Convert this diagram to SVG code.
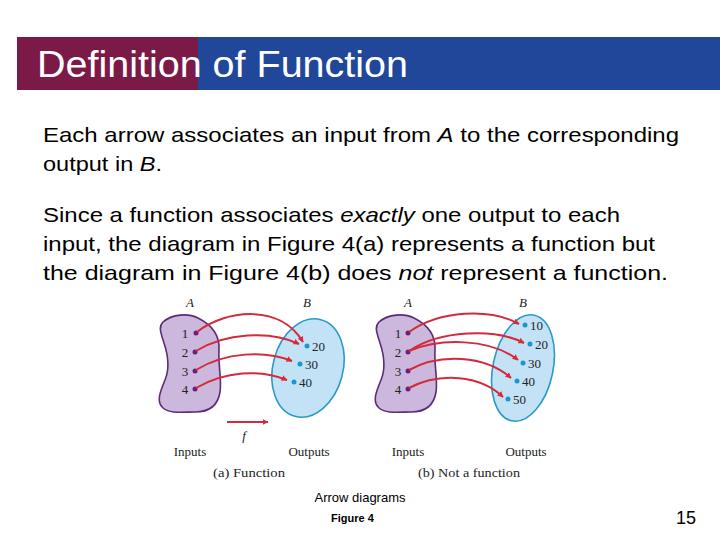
<svg xmlns="http://www.w3.org/2000/svg" width="720" height="540" viewBox="0 0 720 540">
<defs>
<marker id="ah" viewBox="0 0 10 10" refX="9" refY="5" markerWidth="6" markerHeight="6" orient="auto" markerUnits="userSpaceOnUse"><path d="M0,0 L10,5 L0,10 z" fill="#d42a3a"/></marker>
<style>
.body{font-family:"Liberation Sans",Arial,sans-serif;font-size:21px;fill:#000}
.fig{font-family:"Liberation Serif","Times New Roman",serif;font-size:13px;fill:#222}
.it{font-style:italic}
.arr{fill:none;stroke:#d42a3a;stroke-width:2;marker-end:url(#ah)}
.blob{fill:#cbb8dc;stroke:#5e2a7a;stroke-width:1.6}
.ell{fill:#c4e2f6;stroke:#2a9ac8;stroke-width:1.6}
.pd{fill:#6a1f7a}
.bd{fill:#1a96d0}
</style>
</defs>
<rect x="0" y="0" width="720" height="540" fill="#fff"/>
<g id="title">
<rect x="17" y="37" width="181" height="53" fill="#7b1a47"/>
<rect x="198" y="37" width="522" height="53" fill="#21479a"/>
<text x="37" y="77" font-family="Liberation Sans,Arial,sans-serif" font-size="37" fill="#fff" textLength="371" lengthAdjust="spacingAndGlyphs">Definition of Function</text>
</g>
<g id="text">
<text class="body" x="43" y="142" textLength="636" lengthAdjust="spacingAndGlyphs">Each arrow associates an input from <tspan class="it">A</tspan> to the corresponding</text>
<text class="body" x="43" y="171" textLength="119" lengthAdjust="spacingAndGlyphs">output in <tspan class="it">B</tspan>.</text>
<text class="body" x="43" y="222" textLength="577" lengthAdjust="spacingAndGlyphs">Since a function associates <tspan class="it">exactly</tspan> one output to each</text>
<text class="body" x="43" y="251" textLength="612" lengthAdjust="spacingAndGlyphs">input, the diagram in Figure 4(a) represents a function but</text>
<text class="body" x="43" y="280" textLength="625" lengthAdjust="spacingAndGlyphs">the diagram in Figure 4(b) does <tspan class="it">not</tspan> represent a function.</text>
</g>
<g id="figA">
<text class="fig it" x="190" y="307" text-anchor="middle">A</text>
<text class="fig it" x="307" y="307" text-anchor="middle">B</text>
<path class="blob" d="M163,322 C172,314 188,313 198,318 C212,325 220,335 219,350 C218,365 222,380 220,392 C218,405 210,412 195,412 C183,412 170,414 163,408 C156,402 160,392 165,380 C170,368 168,355 164,343 C161,333 158,327 163,322 Z"/>
<ellipse class="ell" cx="308" cy="368" rx="35" ry="50" transform="rotate(15 308 368)"/>
<circle class="pd" cx="196" cy="333" r="2.5"/><circle class="pd" cx="195" cy="352" r="2.5"/><circle class="pd" cx="195" cy="371" r="2.5"/><circle class="pd" cx="195" cy="389" r="2.5"/>
<text class="fig" x="185" y="338" text-anchor="middle">1</text><text class="fig" x="185" y="357" text-anchor="middle">2</text><text class="fig" x="185" y="376" text-anchor="middle">3</text><text class="fig" x="185" y="394" text-anchor="middle">4</text>
<circle class="bd" cx="307" cy="346" r="2.5"/><circle class="bd" cx="300" cy="364" r="2.5"/><circle class="bd" cx="294" cy="382" r="2.5"/>
<text class="fig" x="312" y="351">20</text><text class="fig" x="305" y="369">30</text><text class="fig" x="299" y="387">40</text>
<text class="fig it" x="244" y="440" text-anchor="middle">f</text>
<text class="fig" x="190" y="456" text-anchor="middle">Inputs</text>
<text class="fig" x="309" y="456" text-anchor="middle">Outputs</text>
<text class="fig" x="249" y="477" text-anchor="middle" textLength="72" lengthAdjust="spacingAndGlyphs">(a)  Function</text>
</g>
<g id="figB">
<text class="fig it" x="408" y="307" text-anchor="middle">A</text>
<text class="fig it" x="523" y="307" text-anchor="middle">B</text>
<path class="blob" transform="translate(216,0)" d="M163,322 C172,314 188,313 198,318 C212,325 220,335 219,350 C218,365 222,380 220,392 C218,405 210,412 195,412 C183,412 170,414 163,408 C156,402 160,392 165,380 C170,368 168,355 164,343 C161,333 158,327 163,322 Z"/>
<ellipse class="ell" cx="523" cy="368" rx="30" ry="54" transform="rotate(12 523 368)"/>
<circle class="pd" cx="408" cy="333" r="2.5"/><circle class="pd" cx="408" cy="352" r="2.5"/><circle class="pd" cx="408" cy="371" r="2.5"/><circle class="pd" cx="408" cy="389" r="2.5"/>
<text class="fig" x="398" y="338" text-anchor="middle">1</text><text class="fig" x="398" y="357" text-anchor="middle">2</text><text class="fig" x="398" y="376" text-anchor="middle">3</text><text class="fig" x="398" y="394" text-anchor="middle">4</text>
<circle class="bd" cx="525" cy="325" r="2.5"/><circle class="bd" cx="530" cy="344" r="2.5"/><circle class="bd" cx="523" cy="363" r="2.5"/><circle class="bd" cx="517" cy="381" r="2.5"/><circle class="bd" cx="508" cy="399" r="2.5"/>
<text class="fig" x="530" y="330">10</text><text class="fig" x="535" y="349">20</text><text class="fig" x="528" y="368">30</text><text class="fig" x="522" y="386">40</text><text class="fig" x="513" y="404">50</text>
<text class="fig" x="408" y="456" text-anchor="middle">Inputs</text>
<text class="fig" x="526" y="456" text-anchor="middle">Outputs</text>
<text class="fig" x="469" y="477" text-anchor="middle" textLength="102" lengthAdjust="spacingAndGlyphs">(b)  Not a function</text>
</g>
<g id="connectors">
<path class="arr" d="M197,332 C225,310 280,303 303,342"/>
<path class="arr" d="M196,351 C225,333 270,330 299,344"/>
<path class="arr" d="M196,370 C225,352 265,350 292,361"/>
<path class="arr" d="M196,388 C225,371 260,369 287,380"/>
<path class="arr" d="M227,422 L268,422"/>
<path class="arr" d="M409,332 C440,310 490,308 519,324"/>
<path class="arr" d="M409,351 C440,330 495,328 524,343"/>
<path class="arr" d="M409,351 C440,338 490,338 518,360"/>
<path class="arr" d="M409,370 C440,353 485,355 511,378"/>
<path class="arr" d="M409,388 C440,372 480,375 503,397"/>
</g>
<g id="caption">
<text x="360" y="502" text-anchor="middle" font-family="Liberation Sans,Arial,sans-serif" font-size="13">Arrow diagrams</text>
<text x="331" y="522" font-family="Liberation Sans,Arial,sans-serif" font-size="11" font-weight="bold">Figure 4</text>
<text x="676" y="524" font-family="Liberation Sans,Arial,sans-serif" font-size="18">15</text>
</g>
</svg>
